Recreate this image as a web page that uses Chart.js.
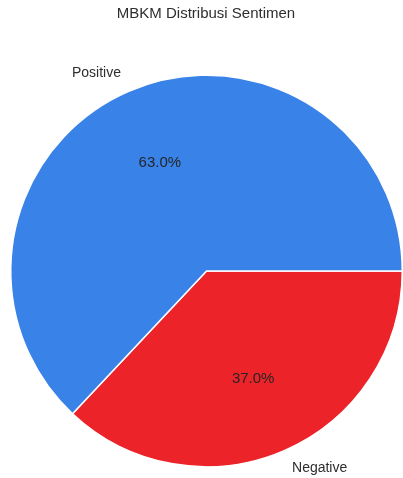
<!DOCTYPE html>
<html>
<head>
<meta charset="utf-8">
<script src="https://cdn.jsdelivr.net/npm/chart.js@4"></script>
<style>
html,body{margin:0;padding:0;background:#fff;}
#wrap{position:relative;width:403px;height:478px;}
</style>
</head>
<body>
<div id="wrap"><canvas id="c" width="403" height="478"></canvas></div>
<script>
const titleText = "MBKM Distribusi Sentimen";
const categories = ["Negative", "Positive"];
const values = [37.0, 63.0];
const colors = ["#ec2329", "#3882e8"];

const labelPlugin = {
  id: 'pieLabels',
  afterDatasetsDraw(chart) {
    const ctx = chart.ctx;
    const meta = chart.getDatasetMeta(0);
    const total = values.reduce((a, b) => a + b, 0);
    ctx.save();
    ctx.textBaseline = 'middle';
    meta.data.forEach((arc, i) => {
      const p = arc.getProps(['x', 'y', 'startAngle', 'endAngle', 'outerRadius'], true);
      const mid = (p.startAngle + p.endAngle) / 2;
      const c = Math.cos(mid), s = Math.sin(mid);
      const lx = p.x + c * p.outerRadius * 1.1;
      const ly = p.y + s * p.outerRadius * 1.1;
      ctx.font = '14px "Liberation Sans", Arial, sans-serif';
      ctx.fillStyle = '#2e2e2e';
      ctx.textAlign = c < 0 ? 'right' : 'left';
      ctx.fillText(categories[i], lx, ly);
      const px = p.x + c * p.outerRadius * 0.6;
      const py = p.y + s * p.outerRadius * 0.6;
      ctx.font = '15px "Liberation Sans", Arial, sans-serif';
      ctx.fillStyle = '#262626';
      ctx.textAlign = 'center';
      ctx.fillText((values[i] / total * 100).toFixed(1) + '%', px, py);
    });
    ctx.font = '15px "Liberation Sans", Arial, sans-serif';
    ctx.fillStyle = '#2e2e2e';
    ctx.textAlign = 'center';
    ctx.fillText(titleText, 206, 14);
    ctx.restore();
  }
};

new Chart(document.getElementById('c'), {
  type: 'pie',
  data: {
    labels: categories,
    datasets: [{
      data: values,
      backgroundColor: colors,
      borderColor: '#ffffff',
      borderWidth: 1.5,
      hoverOffset: 0
    }]
  },
  options: {
    responsive: false,
    animation: false,
    rotation: 90,
    layout: { padding: { left: 10, right: 0, top: 74, bottom: 10 } },
    plugins: {
      legend: { display: false },
      title: { display: false },
      tooltip: { enabled: false }
    }
  },
  plugins: [labelPlugin]
});
</script>
</body>
</html>
